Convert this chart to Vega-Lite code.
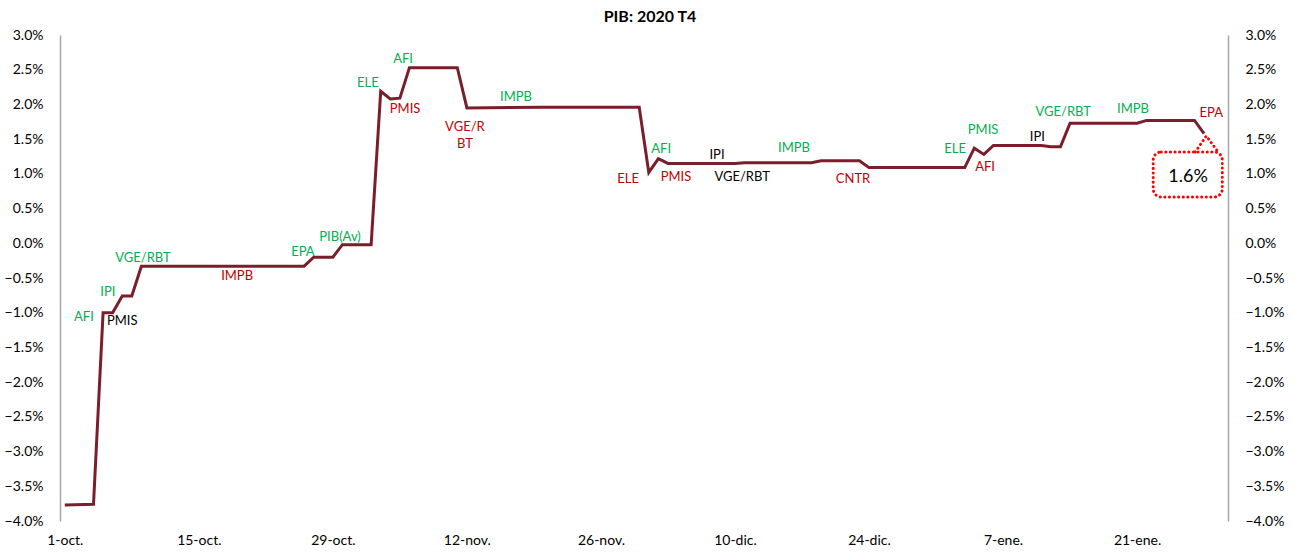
{
  "$schema": "https://vega.github.io/schema/vega-lite/v6.json",
  "width": 1168,
  "height": 486,
  "autosize": {"type": "none"},
  "padding": {"left": 60, "top": 35, "right": 65, "bottom": 32},
  "background": "white",
  "title": {"text": "PIB: 2020 T4", "fontSize": 16, "fontWeight": "bold", "font": "Lato", "color": "#000000", "anchor": "middle", "offset": 3, "dx": 6},
  "config": {
    "view": {"stroke": null},
    "font": "Lato",
    "axis": {"grid": false, "ticks": false, "domainColor": "#A6A6A6", "domainWidth": 1.5, "labelFont": "Lato", "labelFontSize": 14, "labelColor": "#000000", "title": null}
  },
  "datasets": {
    "serie": [
      {"fecha": "2020-10-01", "valor": -3.77},
      {"fecha": "2020-10-04", "valor": -3.76},
      {"fecha": "2020-10-05", "valor": -1.00},
      {"fecha": "2020-10-06", "valor": -1.00},
      {"fecha": "2020-10-07", "valor": -0.76},
      {"fecha": "2020-10-08", "valor": -0.76},
      {"fecha": "2020-10-09", "valor": -0.33},
      {"fecha": "2020-10-26", "valor": -0.33},
      {"fecha": "2020-10-27", "valor": -0.20},
      {"fecha": "2020-10-29", "valor": -0.20},
      {"fecha": "2020-10-30", "valor": -0.02},
      {"fecha": "2020-11-02", "valor": -0.02},
      {"fecha": "2020-11-03", "valor": 2.19},
      {"fecha": "2020-11-04", "valor": 2.08},
      {"fecha": "2020-11-05", "valor": 2.09},
      {"fecha": "2020-11-06", "valor": 2.53},
      {"fecha": "2020-11-11", "valor": 2.53},
      {"fecha": "2020-11-12", "valor": 1.95},
      {"fecha": "2020-11-20", "valor": 1.96},
      {"fecha": "2020-11-30", "valor": 1.96},
      {"fecha": "2020-12-01", "valor": 1.02},
      {"fecha": "2020-12-02", "valor": 1.22},
      {"fecha": "2020-12-03", "valor": 1.15},
      {"fecha": "2020-12-10", "valor": 1.15},
      {"fecha": "2020-12-11", "valor": 1.16},
      {"fecha": "2020-12-18", "valor": 1.16},
      {"fecha": "2020-12-19", "valor": 1.19},
      {"fecha": "2020-12-23", "valor": 1.19},
      {"fecha": "2020-12-24", "valor": 1.09},
      {"fecha": "2021-01-03", "valor": 1.09},
      {"fecha": "2021-01-04", "valor": 1.37},
      {"fecha": "2021-01-05", "valor": 1.28},
      {"fecha": "2021-01-06", "valor": 1.41},
      {"fecha": "2021-01-11", "valor": 1.41},
      {"fecha": "2021-01-12", "valor": 1.39},
      {"fecha": "2021-01-13", "valor": 1.39},
      {"fecha": "2021-01-14", "valor": 1.73},
      {"fecha": "2021-01-21", "valor": 1.73},
      {"fecha": "2021-01-22", "valor": 1.77},
      {"fecha": "2021-01-27", "valor": 1.77},
      {"fecha": "2021-01-28", "valor": 1.58}
    ],
    "etiquetas": [
      {"fecha": "2020-10-03T00:00:00Z", "valor": -1.06, "texto": "AFI", "tipo": "positivo"},
      {"fecha": "2020-10-07T00:00:00Z", "valor": -1.12, "texto": "PMIS", "tipo": "neutro"},
      {"fecha": "2020-10-05T12:00:00Z", "valor": -0.70, "texto": "IPI", "tipo": "positivo"},
      {"fecha": "2020-10-09T04:00:00Z", "valor": -0.21, "texto": "VGE/RBT", "tipo": "positivo"},
      {"fecha": "2020-10-19T00:00:00Z", "valor": -0.47, "texto": "IMPB", "tipo": "negativo"},
      {"fecha": "2020-10-25T21:00:00Z", "valor": -0.13, "texto": "EPA", "tipo": "positivo"},
      {"fecha": "2020-10-29T18:00:00Z", "valor": 0.09, "texto": "PIB(Av)", "tipo": "positivo"},
      {"fecha": "2020-11-01T16:00:00Z", "valor": 2.31, "texto": "ELE", "tipo": "positivo"},
      {"fecha": "2020-11-05T08:00:00Z", "valor": 2.66, "texto": "AFI", "tipo": "positivo"},
      {"fecha": "2020-11-05T13:00:00Z", "valor": 1.94, "texto": "PMIS", "tipo": "negativo"},
      {"fecha": "2020-11-11T19:00:00Z", "valor": 1.67, "texto": "VGE/R\nBT", "tipo": "negativo"},
      {"fecha": "2020-11-17T03:00:00Z", "valor": 2.11, "texto": "IMPB", "tipo": "positivo"},
      {"fecha": "2020-11-28T20:00:00Z", "valor": 0.93, "texto": "ELE", "tipo": "negativo"},
      {"fecha": "2020-12-02T07:00:00Z", "valor": 1.36, "texto": "AFI", "tipo": "positivo"},
      {"fecha": "2020-12-03T20:00:00Z", "valor": 0.96, "texto": "PMIS", "tipo": "negativo"},
      {"fecha": "2020-12-08T03:00:00Z", "valor": 1.27, "texto": "IPI", "tipo": "neutro"},
      {"fecha": "2020-12-10T18:00:00Z", "valor": 0.96, "texto": "VGE/RBT", "tipo": "neutro"},
      {"fecha": "2020-12-16T04:00:00Z", "valor": 1.37, "texto": "IMPB", "tipo": "positivo"},
      {"fecha": "2020-12-22T08:00:00Z", "valor": 0.93, "texto": "CNTR", "tipo": "negativo"},
      {"fecha": "2021-01-02T00:00:00Z", "valor": 1.36, "texto": "ELE", "tipo": "positivo"},
      {"fecha": "2021-01-04T22:00:00Z", "valor": 1.63, "texto": "PMIS", "tipo": "positivo"},
      {"fecha": "2021-01-05T03:00:00Z", "valor": 1.10, "texto": "AFI", "tipo": "negativo"},
      {"fecha": "2021-01-10T14:00:00Z", "valor": 1.53, "texto": "IPI", "tipo": "neutro"},
      {"fecha": "2021-01-13T07:00:00Z", "valor": 1.89, "texto": "VGE/RBT", "tipo": "positivo"},
      {"fecha": "2021-01-20T14:00:00Z", "valor": 1.94, "texto": "IMPB", "tipo": "positivo"},
      {"fecha": "2021-01-28T18:00:00Z", "valor": 1.88, "texto": "EPA", "tipo": "negativo"}
    ],
    "caja": [
      {"inicio": "2021-01-22T16:30:00Z", "fin": "2021-01-29T21:40:00Z", "sup": 1.315, "inf": 0.667}
    ],
    "puntero": [
      {"fecha": "2021-01-27T02:00:00Z", "valor": 1.315},
      {"fecha": "2021-01-28T05:30:00Z", "valor": 1.545},
      {"fecha": "2021-01-29T11:30:00Z", "valor": 1.315}
    ],
    "ultimo": [
      {"fecha": "2021-01-26T08:00:00Z", "valor": 0.96, "texto": "1.6%"}
    ]
  },
  "layer": [
    {
      "mark": {"type": "rule", "color": "#000000", "strokeWidth": 1},
      "encoding": {"y": {"datum": 0, "type": "quantitative", "scale": {"domain": [-4, 3], "nice": false, "zero": false}, "axis": null}}
    },
    {
      "data": {"name": "serie"},
      "mark": {"type": "line", "color": "#7B1E2C", "strokeWidth": 3, "strokeJoin": "miter"},
      "encoding": {
        "x": {
          "field": "fecha", "type": "temporal",
          "scale": {"type": "utc", "domain": [{"year": 2020, "month": 9, "date": 30, "hours": 12, "utc": true}, {"year": 2021, "month": 1, "date": 30, "hours": 12, "utc": true}], "nice": false},
          "axis": {
            "orient": "bottom", "domain": false, "labelPadding": 12,
            "values": [
              {"year": 2020, "month": 10, "date": 1, "utc": true},
              {"year": 2020, "month": 10, "date": 15, "utc": true},
              {"year": 2020, "month": 10, "date": 29, "utc": true},
              {"year": 2020, "month": 11, "date": 12, "utc": true},
              {"year": 2020, "month": 11, "date": 26, "utc": true},
              {"year": 2020, "month": 12, "date": 10, "utc": true},
              {"year": 2020, "month": 12, "date": 24, "utc": true},
              {"year": 2021, "month": 1, "date": 7, "utc": true},
              {"year": 2021, "month": 1, "date": 21, "utc": true}
            ],
            "labelExpr": "utcdate(datum.value) + '-' + ['ene.','feb.','mar.','abr.','may.','jun.','jul.','ago.','sep.','oct.','nov.','dic.'][utcmonth(datum.value)]"
          }
        },
        "y": {
          "field": "valor", "type": "quantitative",
          "scale": {"domain": [-4, 3], "nice": false, "zero": false},
          "axis": {"orient": "left", "labelPadding": 17, "values": [-4, -3.5, -3, -2.5, -2, -1.5, -1, -0.5, 0, 0.5, 1, 1.5, 2, 2.5, 3], "labelExpr": "format(datum.value, '.1f') + '%'"}
        }
      }
    },
    {
      "data": {"name": "caja"},
      "mark": {"type": "rect", "fill": "transparent", "stroke": "#FF0000", "strokeWidth": 3, "strokeDash": [0.1, 4.5], "strokeCap": "round", "cornerRadius": 8},
      "encoding": {
        "x": {"field": "inicio", "type": "temporal"},
        "x2": {"field": "fin"},
        "y": {"field": "sup", "type": "quantitative", "axis": null},
        "y2": {"field": "inf"}
      }
    },
    {
      "data": {"name": "puntero"},
      "mark": {"type": "line", "color": "#FF0000", "strokeWidth": 3, "strokeDash": [0.1, 4.5], "strokeCap": "round"},
      "encoding": {
        "x": {"field": "fecha", "type": "temporal"},
        "y": {"field": "valor", "type": "quantitative", "axis": null}
      }
    },
    {
      "data": {"name": "etiquetas"},
      "mark": {"type": "text", "align": "center", "baseline": "middle", "font": "Lato", "fontSize": 13, "lineBreak": "\n", "lineHeight": 17},
      "encoding": {
        "x": {"field": "fecha", "type": "temporal"},
        "y": {
          "field": "valor", "type": "quantitative",
          "axis": {"orient": "right", "labelPadding": 17, "labelAlign": "left", "values": [-4, -3.5, -3, -2.5, -2, -1.5, -1, -0.5, 0, 0.5, 1, 1.5, 2, 2.5, 3], "labelExpr": "format(datum.value, '.1f') + '%'"}
        },
        "text": {"field": "texto"},
        "color": {"field": "tipo", "type": "nominal", "scale": {"domain": ["positivo", "negativo", "neutro"], "range": ["#00B050", "#C00000", "#000000"]}, "legend": null}
      }
    },
    {
      "data": {"name": "ultimo"},
      "mark": {"type": "text", "align": "center", "baseline": "middle", "font": "Lato", "fontSize": 18, "color": "#000000"},
      "encoding": {
        "x": {"field": "fecha", "type": "temporal"},
        "y": {"field": "valor", "type": "quantitative", "axis": null},
        "text": {"field": "texto"}
      }
    }
  ],
  "resolve": {"axis": {"y": "independent"}}
}
